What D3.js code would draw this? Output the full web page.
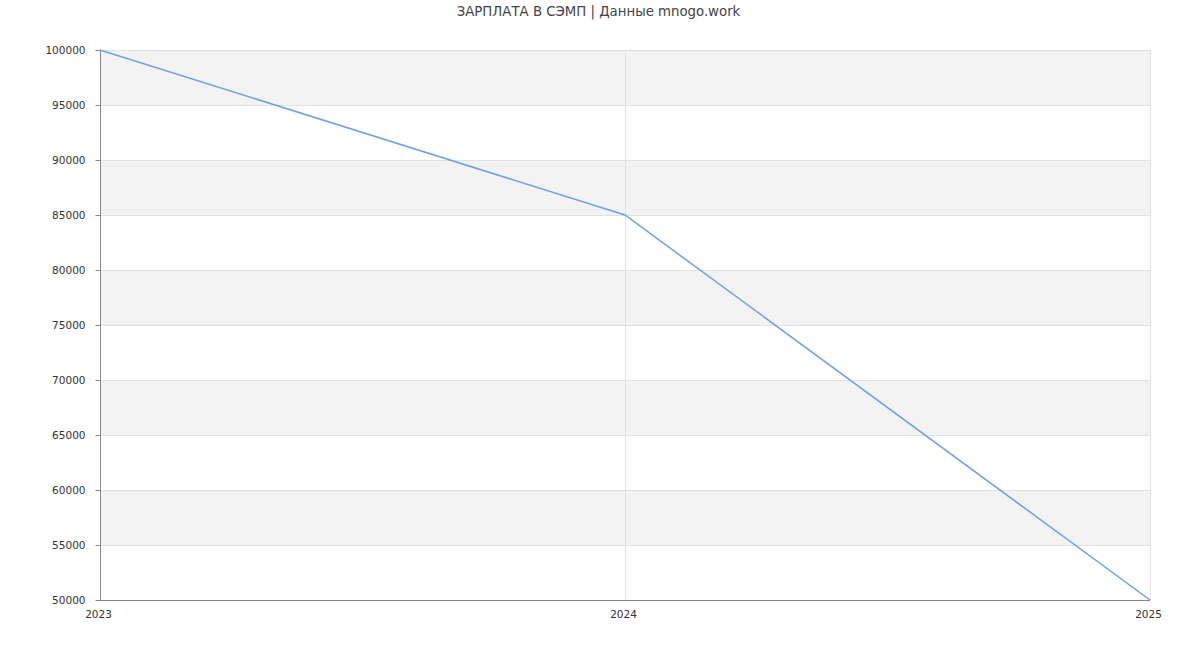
<!DOCTYPE html>
<html><head><meta charset="utf-8">
<script src="https://cdn.jsdelivr.net/npm/d3@7"></script>
<style>body{margin:0;background:#fff;font-family:"DejaVu Sans",sans-serif}</style>
</head><body><svg id="c" width="1200" height="650"></svg>
<script>
const years = ["2023","2024","2025"];
const salaries = [100000, 85000, 50000];
const yTicks = [50000,55000,60000,65000,70000,75000,80000,85000,90000,95000,100000];
const title = "ЗАРПЛАТА В СЭМП | Данные mnogo.work";

const svg = d3.select("#c");
const m = {l:100, r:1150, t:50, b:600};
const x = d3.scalePoint().domain(years).range([m.l, m.r]);
const y = d3.scaleLinear().domain([50000,100000]).range([m.b, m.t]);

svg.append("text").attr("x",598.5).attr("y",16).attr("text-anchor","middle")
  .attr("font-size",13.3).attr("fill","#444").text(title);

// bands
for (let i=0;i<yTicks.length-1;i++){
  const lo=yTicks[i], hi=yTicks[i+1];
  const idx = (yTicks.length-2-i);
  if (idx%2===0){
    svg.append("rect").attr("x",m.l).attr("width",m.r-m.l)
      .attr("y",y(hi)).attr("height",y(lo)-y(hi)).attr("fill","#f3f3f3");
  }
}
// horizontal grid
svg.append("g").selectAll("line").data(yTicks).join("line")
  .attr("x1",m.l).attr("x2",m.r).attr("y1",d=>y(d)+0.5).attr("y2",d=>y(d)+0.5)
  .attr("stroke","#e2e2e2");
// vertical grid
svg.append("g").selectAll("line").data(years.slice(1)).join("line")
  .attr("x1",d=>Math.round(x(d))+0.5).attr("x2",d=>Math.round(x(d))+0.5)
  .attr("y1",m.t).attr("y2",m.b).attr("stroke","#e2e2e2");

// y axis
const ya = svg.append("g").attr("transform",`translate(${m.l+0.5},0)`)
  .call(d3.axisLeft(y).tickValues(yTicks).tickSize(5).tickPadding(10).tickFormat(d3.format("d")));
ya.select(".domain").attr("stroke","#888").attr("d",`M0,${m.t}V${m.b+0.5}`);
ya.selectAll(".tick line").attr("stroke","#888");
ya.selectAll("text").attr("font-size",10.5).attr("fill","#333").attr("font-family","DejaVu Sans");

// x axis
const xa = svg.append("g").attr("transform",`translate(0,${m.b+0.5})`)
  .call(d3.axisBottom(x).tickSize(0).tickPadding(10));
xa.select(".domain").attr("stroke","#888").attr("d",`M${m.l},0H${m.r}`);
xa.selectAll("text").attr("font-size",10.5).attr("fill","#333").attr("font-family","DejaVu Sans")
  .attr("dx",-2);

// line
svg.append("path").datum(salaries.map((v,i)=>[x(years[i]),y(v)]))
  .attr("d",d3.line()).attr("fill","none").attr("stroke","#6f9ff0").attr("stroke-width",1.5);
</script></body></html>
